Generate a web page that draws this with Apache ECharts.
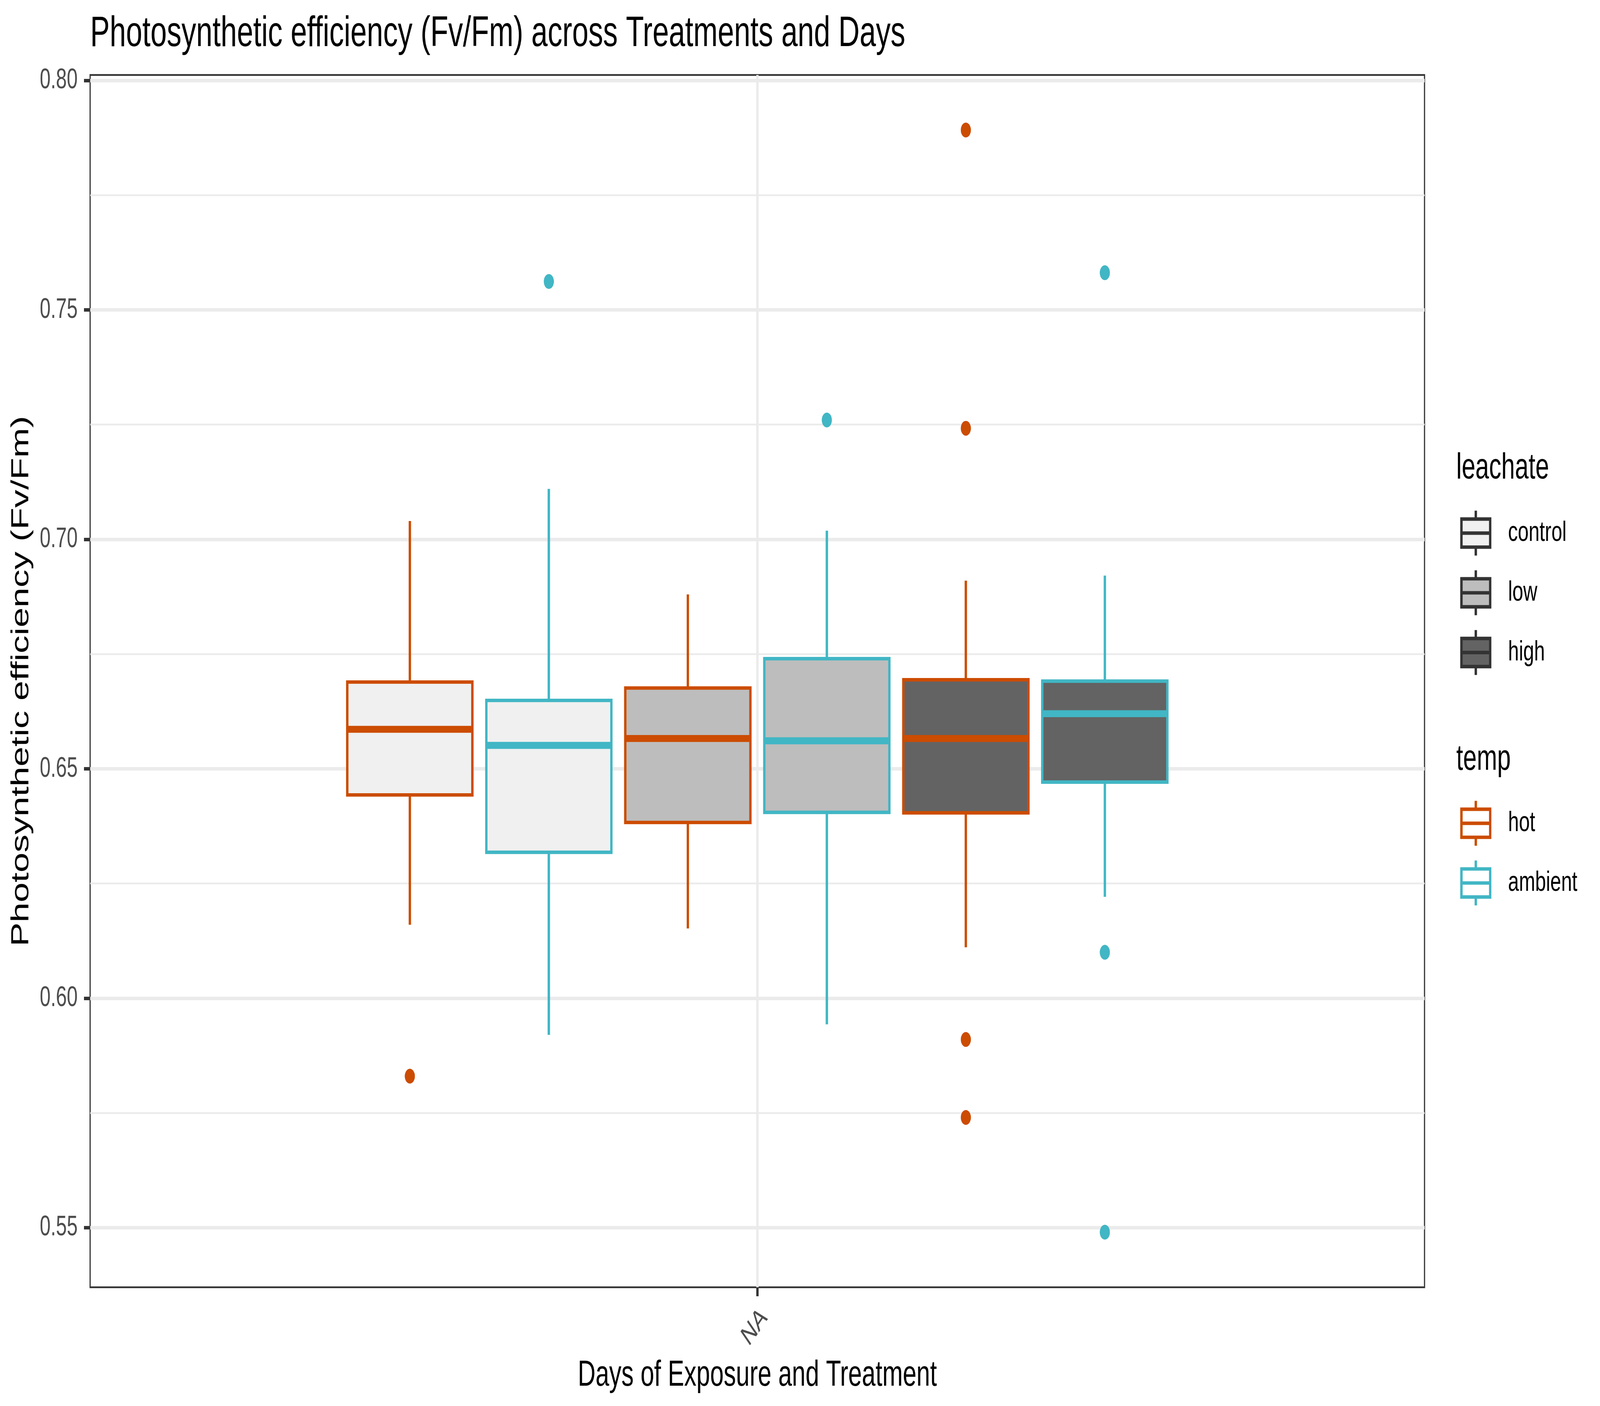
<!DOCTYPE html>
<html>
<head>
<meta charset="utf-8">
<script src="https://cdn.jsdelivr.net/npm/echarts@6/dist/echarts.min.js"></script>
<style>
html,body{margin:0;padding:0;background:#fff;overflow:hidden;}
#wrap{position:absolute;left:0;top:0;width:6000px;height:3600px;transform-origin:0 0;}
#chart{width:6000px;height:3600px;}
</style>
</head>
<body>
<div id="wrap"><div id="chart"></div></div>
<script>
// ---------------- data ----------------
const TITLE = 'Photosynthetic efficiency (Fv/Fm) across Treatments and Days';
const X_LABELS = ['NA'];
const Y_TICKS = [0.55, 0.60, 0.65, 0.70, 0.75, 0.80];
const LEACHATE = ['control', 'low', 'high'];
const TEMPS = ['hot', 'ambient'];
// box stats per temp (hot, ambient): [lower whisker, Q1, median, Q3, upper whisker]
const CONTROL_STATS = [[0.6160, 0.6443, 0.6586, 0.6689, 0.7040], [0.5920, 0.6318, 0.6551, 0.6649, 0.7110]];
const LOW_STATS     = [[0.6152, 0.6383, 0.6566, 0.6676, 0.6880], [0.5943, 0.6405, 0.6561, 0.6740, 0.7019]];
const HIGH_STATS    = [[0.6111, 0.6404, 0.6566, 0.6694, 0.6910], [0.6221, 0.6471, 0.6620, 0.6691, 0.6921]];
// outliers per temp (hot, ambient)
const CONTROL_OUTLIERS = [[0.583], [0.7562]];
const LOW_OUTLIERS     = [[], [0.726]];
const HIGH_OUTLIERS    = [[0.7892, 0.7242, 0.591, 0.574], [0.7581, 0.610, 0.549]];

// ---------------- fit the 6000x3600 drawing into the actual window ----------------
(function () {
  const sx = (window.innerWidth || 6000) / 6000;
  const sy = (window.innerHeight || 3600) / 3600;
  document.getElementById('wrap').style.transform = 'scale(' + sx + ',' + sy + ')';
})();

// ---------------- style ----------------
const FONT = '"Liberation Sans", Arial, Helvetica, sans-serif';
const FILLS = ['#F0F0F0', '#BDBDBD', '#636363'];
const TEMP_COLORS = ['#CC4C02', '#41B6C4'];
const LW = 8.9;
const SLOT = 0.125;          // dodge slot width (x units)
const BOX_W = SLOT * 0.9;    // box width
const KEY_PATH = 'path://M50,10L50,25M12.5,25L87.5,25L87.5,75L12.5,75ZM12.5,50L87.5,50M50,75L50,90';

const STATS = [CONTROL_STATS, LOW_STATS, HIGH_STATS];
const OUTLIERS = [CONTROL_OUTLIERS, LOW_OUTLIERS, HIGH_OUTLIERS];
const groupX = (li, ti) => ((li * 2 + ti) - 2.5) * SLOT;

function makeRender(fill) {
  return function (params, api) {
    const x = api.value(0);
    const lo = api.coord([x, api.value(1)]);
    const q1 = api.coord([x, api.value(2)]);
    const md = api.coord([x, api.value(3)]);
    const q3 = api.coord([x, api.value(4)]);
    const hi = api.coord([x, api.value(5)]);
    const w = api.size([BOX_W, 0])[0];
    const col = TEMP_COLORS[api.value(6)];
    return {
      type: 'group',
      children: [
        { type: 'line', shape: { x1: hi[0], y1: hi[1], x2: q3[0], y2: q3[1] }, style: { stroke: col, lineWidth: LW } },
        { type: 'line', shape: { x1: q1[0], y1: q1[1], x2: lo[0], y2: lo[1] }, style: { stroke: col, lineWidth: LW } },
        { type: 'rect', shape: { x: q3[0] - w / 2, y: q3[1], width: w, height: q1[1] - q3[1] }, style: { fill: fill, stroke: col, lineWidth: LW } },
        { type: 'line', shape: { x1: md[0] - w / 2, y1: md[1], x2: md[0] + w / 2, y2: md[1] }, style: { stroke: col, lineWidth: LW * 2 } }
      ]
    };
  };
}

const series = [];
LEACHATE.forEach((name, li) => {
  series.push({
    name: name,
    type: 'custom',
    renderItem: makeRender(FILLS[li]),
    encode: { x: 0, y: [1, 2, 3, 4, 5] },
    itemStyle: { color: FILLS[li], borderColor: '#333333' },
    data: STATS[li].map((s, ti) => [groupX(li, ti), s[0], s[1], s[2], s[3], s[4], ti]),
    z: 3
  });
});
TEMPS.forEach((name, ti) => {
  const pts = [];
  LEACHATE.forEach((l, li) => {
    OUTLIERS[li][ti].forEach(v => pts.push([groupX(li, ti), v]));
  });
  series.push({
    name: name,
    type: 'scatter',
    symbol: 'circle',
    symbolSize: 38,
    itemStyle: { color: TEMP_COLORS[ti], opacity: 1 },
    data: pts,
    z: 4
  });
});

const chart = echarts.init(document.getElementById('chart'), null, { renderer: 'canvas', width: 6000, height: 3600 });
chart.setOption({
  animation: false,
  backgroundColor: '#FFFFFF',
  textStyle: { fontFamily: FONT },
  title: [
    { text: TITLE, left: 338, top: 33, padding: 0,
      textStyle: { fontSize: 110, fontWeight: 'normal', color: '#000000', fontFamily: FONT } },
    { text: 'leachate', left: 5461, top: 1154, padding: 0,
      textStyle: { fontSize: 92, fontWeight: 'normal', color: '#000000', fontFamily: FONT } },
    { text: 'temp', left: 5461, top: 1900, padding: 0,
      textStyle: { fontSize: 92, fontWeight: 'normal', color: '#000000', fontFamily: FONT } }
  ],
  legend: [
    { orient: 'vertical', left: 5476, top: 1303, padding: 0, itemWidth: 108, itemHeight: 115, itemGap: 29,
      selectedMode: false,
      data: LEACHATE.map((n, i) => ({ name: n, icon: KEY_PATH,
        itemStyle: { color: FILLS[i], borderColor: '#333333', borderWidth: LW } })),
      textStyle: { fontSize: 73, color: '#000000', fontFamily: FONT, padding: [0, 0, 0, 62] } },
    { orient: 'vertical', left: 5476, top: 2046, padding: 0, itemWidth: 108, itemHeight: 115, itemGap: 29,
      selectedMode: false,
      data: TEMPS.map((n, i) => ({ name: n, icon: KEY_PATH,
        itemStyle: { color: '#FFFFFF', borderColor: TEMP_COLORS[i], borderWidth: LW } })),
      textStyle: { fontSize: 73, color: '#000000', fontFamily: FONT, padding: [0, 0, 0, 62] } }
  ],
  grid: { left: 338, right: 658, top: 192, bottom: 304, show: true, borderColor: '#333333', borderWidth: 4.5, backgroundColor: '#FFFFFF' },
  xAxis: {
    type: 'value', min: -0.6, max: 0.6, interval: 0.6,
    axisLine: { show: false, onZero: false },
    axisTick: { show: true, length: 23, customValues: [0], lineStyle: { color: '#333333', width: LW } },
    axisLabel: { customValues: [0], formatter: () => X_LABELS[0], rotate: 45, margin: 41,
      align: 'right', verticalAlign: 'top',
      fontSize: 73, color: '#4D4D4D', fontFamily: FONT },
    splitLine: { show: true, lineStyle: { color: '#EBEBEB', width: LW } },
    name: 'Days of Exposure and Treatment', nameLocation: 'middle', nameGap: 181,
    nameTextStyle: { fontSize: 92, color: '#000000', fontFamily: FONT }
  },
  yAxis: {
    type: 'value', min: 0.537, max: 0.8012,
    axisLine: { show: false, onZero: false },
    axisTick: { show: true, length: 23, customValues: Y_TICKS, lineStyle: { color: '#333333', width: LW } },
    axisLabel: { customValues: Y_TICKS, formatter: v => v.toFixed(2), margin: 47,
      fontSize: 73, color: '#4D4D4D', fontFamily: FONT },
    splitLine: { show: true, lineStyle: { color: '#EBEBEB', width: LW } },
    minorTick: { show: false, splitNumber: 2 },
    minorSplitLine: { show: true, lineStyle: { color: '#EBEBEB', width: LW / 2 } },
    name: 'Photosynthetic efficiency (Fv/Fm)', nameLocation: 'middle', nameGap: 211, nameRotate: 90,
    nameTextStyle: { fontSize: 92, color: '#000000', fontFamily: FONT }
  },
  series: series
});
</script>
</body>
</html>
